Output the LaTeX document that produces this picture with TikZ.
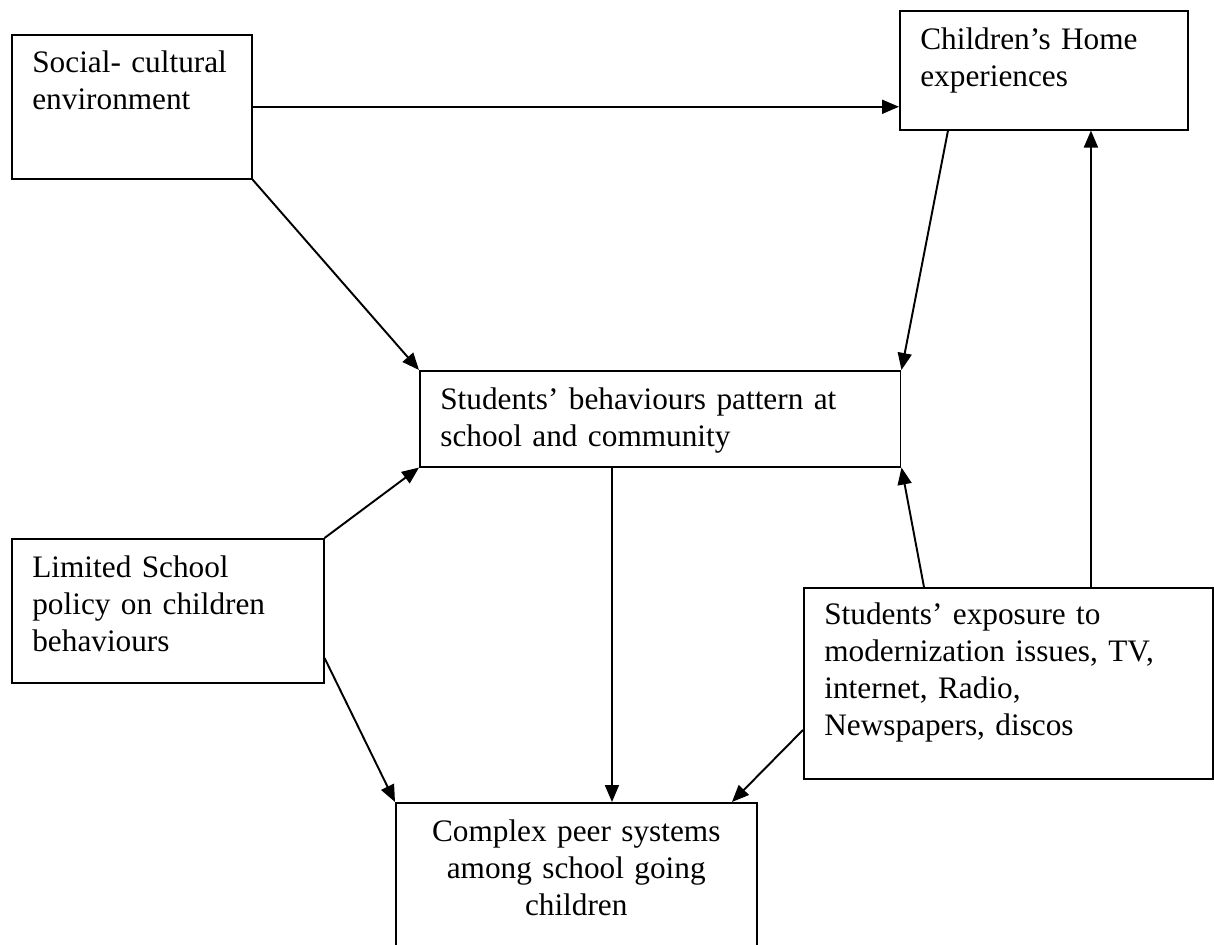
\documentclass[tikz,border=0pt]{standalone}
\usepackage{fontspec}
\setmainfont{Liberation Serif}
\usetikzlibrary{arrows.meta}

\tikzset{
  box/.style={draw, line width=0.9pt, anchor=north west, inner sep=0pt},
  txt/.style={anchor=base west, inner sep=0pt, text width=9cm, align=left},
  arr/.style={line width=1.1pt, -{Triangle[length=0.34cm, width=0.28cm]}}
}

\begin{document}
\begin{tikzpicture}[x=0.02cm, y=-0.02cm, font=\fontsize{17.8}{21}\selectfont]
\clip (0,0) rectangle (1214,945);
\fill[white] (0,0) rectangle (1214,945);

\node[box, minimum width=4.8cm, minimum height=2.88cm] (social) at (11,34) {};
\node[box, minimum width=5.76cm, minimum height=2.38cm] (home) at (899,10) {};
\node[box, minimum width=9.62cm, minimum height=1.92cm] (behav) at (419,370) {};
\node[box, minimum width=6.24cm, minimum height=2.88cm] (policy) at (11,538) {};
\node[box, minimum width=8.18cm, minimum height=3.82cm] (media) at (803,587) {};
\node[box, minimum width=7.22cm, minimum height=4cm] (peer) at (395,802) {};

\node[txt] (socialtext) at ([shift={(0.42cm,-0.78cm)}]social.north west) {Social- cultural\\environment};
\node[txt] (hometext) at ([shift={(0.42cm,-0.8cm)}]home.north west) {Children's Home\\experiences};
\node[txt] (behavtext) at ([shift={(0.42cm,-0.8cm)}]behav.north west) {Students' behaviours pattern at\\school and community};
\node[txt] (policytext) at ([shift={(0.42cm,-0.8cm)}]policy.north west) {Limited School\\policy on children\\behaviours};
\node[txt] (mediatext) at ([shift={(0.42cm,-0.76cm)}]media.north west) {Students' exposure to\\modernization issues, TV,\\internet, Radio,\\Newspapers, discos};
\node[txt, anchor=base, text width=7.22cm, align=center] (peertext) at ([yshift=-0.8cm]peer.north) {Complex peer systems\\among school going\\children};

\coordinate (mediatop) at ([xshift=5.76cm]media.north west);
\coordinate (behavout) at ([xshift=3.86cm]behav.south west);

\draw[arr] (social.east) -- (social.east -| home.west);
\draw[arr] (social.south east) -- (behav.north west);
\draw[arr] ([xshift=0.98cm]home.south west) -- (behav.north east);
\draw[arr] (policy.north east) -- (behav.south west);
\draw[arr] ([xshift=2.42cm]media.north west) -- (behav.south east);
\draw[arr] (mediatop) -- (mediatop |- home.south);
\draw[arr] (behavout) -- (behavout |- peer.north);
\draw[arr] ([yshift=-2.4cm]policy.north east) -- (peer.north west);
\draw[arr] ([yshift=-2.86cm]media.north west) -- ([xshift=6.74cm]peer.north west);
\end{tikzpicture}
\end{document}
